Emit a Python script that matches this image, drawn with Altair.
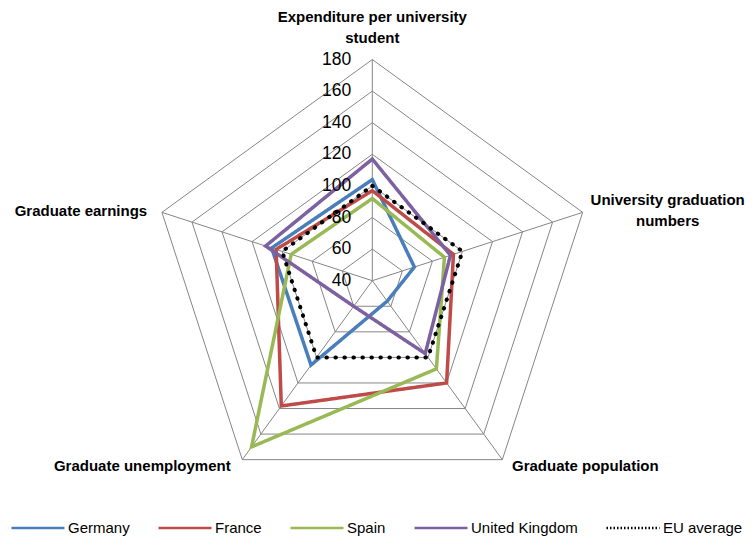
import altair as alt
import pandas as pd

categories = ["Expenditure per university student", "University graduation numbers",
              "Graduate population", "Graduate unemployment", "Graduate earnings"]
category_labels = [["Expenditure per university", "student"], ["University graduation", "numbers"],
                   ["Graduate population"], ["Graduate unemployment"], ["Graduate earnings"]]
series_names = ["Germany", "France", "Spain", "United Kingdom", "EU average"]
germany = [104, 68, 56, 106, 107]
france = [97, 94, 120, 138, 104]
spain = [92, 88, 109, 170, 94]
united_kingdom = [117, 92, 97, 60, 111]
eu_average = [100, 100, 100, 100, 100]
ticks = [40, 60, 80, 100, 120, 140, 160, 180]
colors = ["#4A7EBB", "#BE4B48", "#98B954", "#7D60A0", "#000000"]

# layout (pixels)
W, H = 738, 530
CX, CY = 364.3, 272.7          # centre of the radar inside the plot area
K = 1.58                        # pixels per value unit
VMIN = ticks[0]
N = len(categories)

x_dom = [-CX / K, (W - CX) / K]
y_dom = [-(H - CY) / K, CY / K]

rows = []
for name, vals in zip(series_names, [germany, france, spain, united_kingdom, eu_average]):
    for i, (c, v) in enumerate(zip(categories, vals)):
        rows.append({"series": name, "idx": i, "category": c, "value": v})
series_df = pd.DataFrame(rows)

grid_df = pd.DataFrame([{"ring": t, "idx": i, "value": t} for t in ticks[1:] for i in range(N)])
spoke_df = pd.DataFrame([{"idx": i, "value": ticks[-1], "value0": VMIN} for i in range(N)])
label_df = pd.DataFrame([{"idx": i, "label": lab, "value": ticks[-1]} for i, lab in enumerate(category_labels)])
tick_df = pd.DataFrame({"value": ticks, "idx": [0] * len(ticks), "text": [str(t) for t in ticks]})

def polar(ch):
    return (ch.transform_calculate(angle=f"datum.idx * 2 * PI / {N}")
              .transform_calculate(r=f"datum.value - {VMIN}")
              .transform_calculate(px="datum.r * sin(datum.angle)", py="datum.r * cos(datum.angle)"))

X = alt.X("px:Q", scale=alt.Scale(domain=x_dom, nice=False, zero=False), axis=None)
Y = alt.Y("py:Q", scale=alt.Scale(domain=y_dom, nice=False, zero=False), axis=None)

grid_color = "#868686"

rings = polar(alt.Chart(grid_df).mark_line(color=grid_color, strokeWidth=1, interpolate="linear-closed")).encode(
    x=X, y=Y, detail="ring:N", order="idx:Q")

spokes = (alt.Chart(spoke_df).mark_rule(color=grid_color, strokeWidth=1)
          .transform_calculate(angle=f"datum.idx * 2 * PI / {N}")
          .transform_calculate(r=f"datum.value - {VMIN}", r0=f"datum.value0 - {VMIN}")
          .transform_calculate(px="datum.r * sin(datum.angle)", py="datum.r * cos(datum.angle)",
                               px0="datum.r0 * sin(datum.angle)", py0="datum.r0 * cos(datum.angle)")
          .encode(x=alt.X("px0:Q", scale=alt.Scale(domain=x_dom, nice=False, zero=False), axis=None),
                  y=alt.Y("py0:Q", scale=alt.Scale(domain=y_dom, nice=False, zero=False), axis=None),
                  x2="px:Q", y2="py:Q"))

legend = alt.Legend(title=None, orient="none", legendX=2, legendY=492, direction="horizontal",
                    symbolType="stroke", symbolSize=2809, symbolStrokeWidth=2.5,
                    labelFont="Liberation Sans", labelFontSize=15, labelColor="#000000",
                    labelOffset=2, columnPadding=23, columns=5)

countries = polar(alt.Chart(series_df).transform_filter("datum.series != 'EU average'")
                  .mark_line(strokeWidth=3.5, interpolate="linear-closed")).encode(
    x=X, y=Y, order="idx:Q",
    color=alt.Color("series:N", scale=alt.Scale(domain=series_names, range=colors), legend=legend),
    strokeDash=alt.StrokeDash("series:N",
                              scale=alt.Scale(domain=series_names, range=[[1, 0]] * 4 + [[1.5, 2]]),
                              legend=legend),
)

eu = polar(alt.Chart(series_df).transform_filter("datum.series == 'EU average'")
           .mark_line(color="#000000", strokeWidth=4, strokeDash=[0.5, 8.5], strokeCap="round",
                      interpolate="linear-closed")).encode(x=X, y=Y, order="idx:Q")

tick_labels = polar(alt.Chart(tick_df).mark_text(align="right", baseline="middle", dx=-21,
                                                 font="Liberation Sans", fontSize=17.5, color="#000000")).encode(
    x=X, y=Y, text="text:N")

offsets = [(0, -42.5), (85, -12.5), (83, 6), (-100, 6), (-81, -1)]
label_layers = []
for i, (dx, dy) in enumerate(offsets):
    label_layers.append(
        polar(alt.Chart(label_df).transform_filter(f"datum.idx == {i}")
              .mark_text(align="center", baseline="middle", dx=dx, dy=dy, font="Liberation Sans",
                         fontSize=15, fontWeight="bold", lineHeight=21, color="#000000"))
        .encode(x=X, y=Y, text="label"))

chart = alt.layer(rings, spokes, countries, eu, tick_labels, *label_layers).properties(
    width=W, height=H, autosize=alt.AutoSizeParams(type="none"), padding=0
).configure_view(strokeWidth=0)

chart.save("out.html", embed_options={"renderer": "svg", "actions": False})
